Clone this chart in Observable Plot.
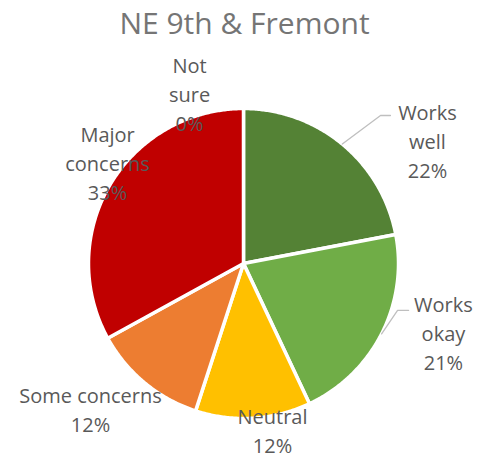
<!DOCTYPE html>
<html>
<head>
<meta charset="utf-8">
<script src="https://cdn.jsdelivr.net/npm/d3@7"></script>
<script src="https://cdn.jsdelivr.net/npm/@observablehq/plot@0.6"></script>
<style>
  html, body { margin: 0; padding: 0; background: #fff; }
</style>
</head>
<body>
<div id="chart"></div>
<script>
// ---- data ----
const title = "NE 9th & Fremont";
const categories = ["Works well", "Works okay", "Neutral", "Some concerns", "Major concerns", "Not sure"];
const values = [22, 21, 12, 12, 33, 0];
const colors = ["#548235", "#70AD47", "#FFC000", "#ED7D31", "#C00000", "#A5A5A5"];

// ---- label layout (unit-circle coordinates, Excel-style manual placement) ----
const labelX = [1.187, 1.290, 0.187, -0.987, -0.877, -0.348];
const labelY = [0.796, -0.439, -1.072, -0.933, 0.654, 1.099];
const labelWrap = [true, true, false, false, true, true];
// leader line elbows (unit coords) for labels that have one
const leaderElbow = { "Works well": [[0.884, 0.955], [0.948, 0.955]],
                      "Works okay": [[0.994, -0.303], [1.065, -0.303]] };

const data = categories.map((c, i) => ({ category: c, value: values[i] }));
const arcs = d3.pie().sort(null).value(d => d.value).startAngle(0).endAngle(2 * Math.PI)(data);

// slice polygons in unit coordinates (angle measured clockwise from 12 o'clock)
const slicePts = [];
arcs.forEach(a => {
  if (a.data.value <= 0) return;
  const n = Math.max(2, Math.ceil((a.endAngle - a.startAngle) / (Math.PI / 360)));
  slicePts.push({ category: a.data.category, x: 0, y: 0 });
  for (let k = 0; k <= n; k++) {
    const t = a.startAngle + (a.endAngle - a.startAngle) * k / n;
    slicePts.push({ category: a.data.category, x: Math.sin(t), y: Math.cos(t) });
  }
});

// leader lines: start at mid-angle on arc edge, then elbow points
const leaderPts = [];
arcs.forEach(a => {
  const el = leaderElbow[a.data.category];
  if (!el) return;
  const m = (a.startAngle + a.endAngle) / 2;
  leaderPts.push({ category: a.data.category, x: Math.sin(m), y: Math.cos(m) });
  el.forEach(p => leaderPts.push({ category: a.data.category, x: p[0], y: p[1] }));
});

const labels = categories.map((c, i) => ({
  x: labelX[i], y: labelY[i],
  text: (labelWrap[i] ? c.replace(" ", "\n") : c) + "\n" + values[i] + "%"
}));

const font = "'Open Sans', 'DejaVu Sans', sans-serif";

const chart = Plot.plot({
  width: 488,
  height: 458,
  margin: 0,
  x: { domain: [-1, 1], range: [88, 398], axis: null },
  y: { domain: [-1, 1], range: [418, 108], axis: null },
  color: { domain: categories, range: colors },
  style: { fontFamily: font, background: "#fff", overflow: "visible" },
  marks: [
    Plot.line(slicePts, {
      x: "x", y: "y", z: "category", fill: "category",
      stroke: "#fff", strokeWidth: 3.5, curve: "linear-closed", strokeLinejoin: "round"
    }),
    Plot.line(leaderPts, { x: "x", y: "y", z: "category", stroke: "#bfbfbf", strokeWidth: 1.3 }),
    Plot.text(labels, {
      x: "x", y: "y", text: "text", lineAnchor: "middle", textAnchor: "middle",
      fontSize: 20, lineHeight: 1.45, fill: "#595959"
    }),
    Plot.text([title], {
      frameAnchor: "top", dy: 24, lineAnchor: "middle", fontSize: 30, fill: "#757575"
    })
  ]
});

document.getElementById("chart").appendChild(chart);
</script>
</body>
</html>
